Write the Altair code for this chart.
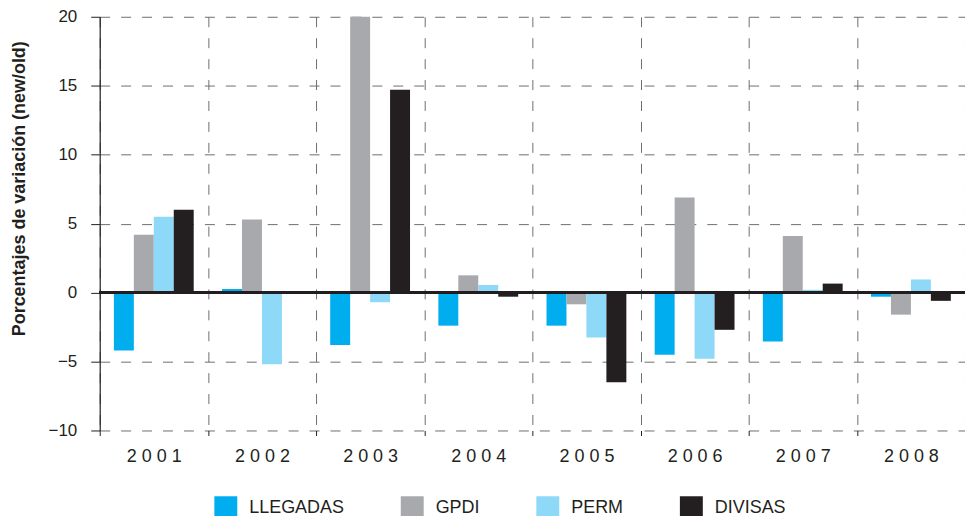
import altair as alt
import pandas as pd

years = ["2001", "2002", "2003", "2004", "2005", "2006", "2007", "2008"]
series = ["LLEGADAS", "GPDI", "PERM", "DIVISAS"]
colors = ["#00AEEF", "#A7A9AC", "#8ED8F8", "#231F20"]

llegadas = [-4.2, 0.25, -3.8, -2.4, -2.4, -4.5, -3.55, -0.3]
gpdi = [4.2, 5.3, 20.0, 1.25, -0.85, 6.9, 4.1, -1.6]
perm = [5.5, -5.2, -0.7, 0.55, -3.25, -4.8, 0.2, 0.95]
divisas = [6.0, 0.0, 14.7, -0.3, -6.5, -2.7, 0.65, -0.6]

y_ticks = [-10, -5, 0, 5, 10, 15, 20]

rows = []
for s, vals in zip(series, [llegadas, gpdi, perm, divisas]):
    for yr, v in zip(years, vals):
        rows.append({"year": yr, "series": s, "value": v})
df = pd.DataFrame(rows)

FONT = "Liberation Sans"
INK = "#231F20"
GRID = "#6d6e71"

bars = alt.Chart(df).mark_bar().encode(
    x=alt.X(
        "year:N",
        sort=years,
        scale=alt.Scale(paddingInner=0, paddingOuter=0),
        axis=alt.Axis(
            title=None,
            labelAngle=0,
            domain=False,
            tickBand="extent",
            ticks=True,
            tickColor=INK,
            tickSize=5,
            grid=True,
            gridColor=GRID,
            gridDash=[10, 11],
            gridWidth=1,
            labelFont=FONT,
            labelFontSize=18,
            labelColor=INK,
            labelPadding=12,
            labelExpr="join(split(datum.label, ''), ' ')",
        ),
    ),
    xOffset=alt.XOffset(
        "series:N", sort=series, scale=alt.Scale(paddingInner=0, paddingOuter=0.71)
    ),
    y=alt.Y(
        "value:Q",
        scale=alt.Scale(domain=[-10, 20], nice=False, zero=False),
        axis=alt.Axis(
            title="Porcentajes de variación (new/old)",
            values=y_ticks,
            domain=True,
            domainColor=INK,
            domainWidth=1.2,
            ticks=True,
            tickColor=INK,
            tickSize=9,
            grid=True,
            gridColor=GRID,
            gridDash=[10, 11],
            gridWidth=1,
            labelFont=FONT,
            labelFontSize=17,
            labelColor=INK,
            labelPadding=14,
            titleFont=FONT,
            titleFontSize=18,
            titleFontWeight="bold",
            titleColor=INK,
            titleX=-75,
            titleY=172,
            titleBaseline="alphabetic",
            titleAngle=-90,
        ),
    ),
    color=alt.Color(
        "series:N",
        sort=series,
        scale=alt.Scale(domain=series, range=colors),
        legend=alt.Legend(
            title=None,
            orient="none",
            legendX=115,
            legendY=481,
            direction="horizontal",
            symbolType="square",
            symbolSize=529,
            symbolStrokeWidth=0,
            labelFont=FONT,
            labelFontSize=18,
            labelColor=INK,
            labelOffset=12,
            columnPadding=56,
            padding=0,
        ),
    ),
)

zero = alt.Chart(df).mark_rule(color=INK, strokeWidth=1.5).encode(y=alt.datum(0))

chart = (
    alt.layer(bars, zero)
    .properties(
        width=868,
        height=415,
        autosize="none",
        padding={"left": 92, "top": 8, "right": 0, "bottom": 85},
    )
    .configure_view(stroke=None)
)

chart.save("out.html", embed_options={"renderer": "svg", "actions": False})
